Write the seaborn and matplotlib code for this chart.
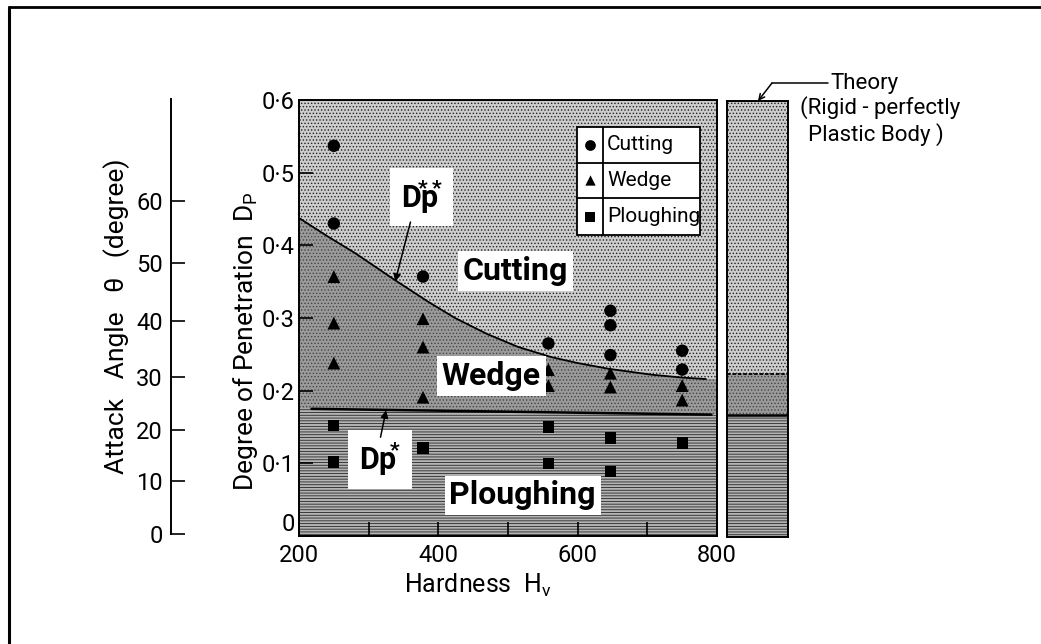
import numpy as np
import pandas as pd
import matplotlib
matplotlib.use("Agg")
import matplotlib.pyplot as plt
import seaborn as sns
from matplotlib.lines import Line2D
from matplotlib.patches import Rectangle

# ---- observed wear modes: Vickers hardness vs degree of penetration ----
cut_hv = [250, 250, 378, 558, 647, 647, 647, 750, 750]
cut_dp = [0.537, 0.430, 0.357, 0.265, 0.310, 0.290, 0.249, 0.255, 0.229]
wedge_hv = [250, 250, 250, 378, 378, 378, 558, 558, 647, 647, 750, 750]
wedge_dp = [0.357, 0.293, 0.238, 0.299, 0.260, 0.191, 0.229, 0.207,
            0.224, 0.205, 0.207, 0.187]
plough_hv = [250, 250, 378, 558, 558, 647, 647, 750]
plough_dp = [0.152, 0.102, 0.121, 0.150, 0.100, 0.135, 0.089, 0.128]

# ---- transition boundaries ----
# Dp** : wedge -> cutting
dpss_hv = [201, 240, 281, 338, 386, 424, 470, 515, 563, 600, 645, 706, 750, 784]
dpss_val = [0.437, 0.413, 0.389, 0.352, 0.322, 0.300, 0.278, 0.260, 0.246,
            0.238, 0.230, 0.222, 0.218, 0.216]
# Dp* : ploughing -> wedge
dps_hv = [218, 792]
dps_val = [0.175, 0.167]
# rigid-perfectly plastic theory
theory_dp_star = 0.168
theory_dp_starstar = 0.224

# ---- axis ticks ----
hv_ticks = [200, 300, 400, 500, 600, 700, 800]
hv_labels = ["200", "", "400", "", "600", "", "800"]
dp_ticks = [0.0, 0.1, 0.2, 0.3, 0.4, 0.5, 0.6]
dp_labels = ["0", "0·1", "0·2", "0·3", "0·4", "0·5", "0·6"]
angle_ticks = [0, 10, 20, 30, 40, 50, 60]
angle_dp = [0.0, 0.073, 0.144, 0.216, 0.294, 0.374, 0.460]

modes = ["Cutting", "Wedge", "Ploughing"]
mode_markers = {"Cutting": "o", "Wedge": "^", "Ploughing": "s"}
mode_sizes = {"Cutting": 80, "Wedge": 85, "Ploughing": 66}

# ---- styling ----
sns.set_theme(style="white")
plt.rcParams["font.family"] = ["Roboto", "DejaVu Sans"]
plt.rcParams.update({
    "mathtext.fontset": "custom",
    "mathtext.rm": "Roboto",
    "mathtext.bf": "Roboto:bold",
    "axes.edgecolor": "black",
    "text.color": "black",
    "xtick.color": "black",
    "ytick.color": "black",
    "axes.labelcolor": "black",
    "axes.axisbelow": False,
    "xtick.bottom": True,
    "ytick.left": True,
    "hatch.linewidth": 0.6,
})

CUT_FACE, CUT_HATCH = "#cdcdcd", "#222222"
WEDGE_FACE, WEDGE_HATCH = "#9a9a9a", "#444444"
PLOUGH_FACE, PLOUGH_HATCH = "#b4b4b4", "#262626"

W, H = 1041, 644
fig = plt.figure(figsize=(W / 100, H / 100), dpi=100)
fig.patch.set_facecolor("white")

ax = fig.add_axes([299 / W, 1 - 536 / H, 418 / W, 436 / H])
ax_th = fig.add_axes([727 / W, 1 - 537 / H, 61 / W, 436 / H])
ax_ang = fig.add_axes([171 / W, 1 - 534 / H, 0.001, 435 / H])
ax.set_axisbelow(False)

DP_MAX = 0.6
HV_MIN, HV_MAX = 200, 800

# ---- regions in the main panel ----
grid = np.linspace(HV_MIN, HV_MAX, 601)
upper = np.interp(grid, dpss_hv, dpss_val)
lower = np.interp(grid, dps_hv, dps_val)
ax.fill_between(grid, 0, lower, facecolor=PLOUGH_FACE, hatch="------",
                edgecolor=PLOUGH_HATCH, linewidth=0, zorder=1)
ax.fill_between(grid, lower, upper, facecolor=WEDGE_FACE, hatch=".....",
                edgecolor=WEDGE_HATCH, linewidth=0, zorder=1)
ax.fill_between(grid, upper, DP_MAX, facecolor=CUT_FACE, hatch=".....",
                edgecolor=CUT_HATCH, linewidth=0, zorder=1)

# boundary lines
sns.lineplot(x=dpss_hv, y=dpss_val, ax=ax, color="black", linewidth=1.3,
             sort=False, estimator=None, zorder=3)
sns.lineplot(x=dps_hv, y=dps_val, ax=ax, color="black", linewidth=1.8,
             sort=False, estimator=None, zorder=3)

# observations
obs = pd.DataFrame({
    "Hardness": cut_hv + wedge_hv + plough_hv,
    "Dp": cut_dp + wedge_dp + plough_dp,
    "Mode": ["Cutting"] * len(cut_hv) + ["Wedge"] * len(wedge_hv)
            + ["Ploughing"] * len(plough_hv),
})
sns.scatterplot(data=obs, x="Hardness", y="Dp", style="Mode", size="Mode",
                markers=mode_markers, sizes=mode_sizes, style_order=modes,
                size_order=modes, color="black", edgecolor="black",
                linewidth=0, legend=False, ax=ax, zorder=4)

# region names
box = dict(boxstyle="square,pad=0.15", fc="white", ec="none")
ax.text(511, 0.365, "Cutting", ha="center", va="center", fontsize=23,
        fontweight="bold", bbox=box, zorder=5)
ax.text(476, 0.220, "Wedge", ha="center", va="center", fontsize=23,
        fontweight="bold", bbox=box, zorder=5)
ax.text(521, 0.056, "Ploughing", ha="center", va="center", fontsize=23,
        fontweight="bold", bbox=box, zorder=5)

# Dp** and Dp* callouts
big_box = dict(boxstyle="square,pad=0.35", fc="white", ec="none")
ax.text(346, 0.452, "Dp$^{\\!\\!\\!\\!\\!\\!\\mathbf{**}}$", ha="left",
        va="baseline", fontsize=22, fontweight="bold", bbox=big_box, zorder=5)
ax.annotate("", xy=(338, 0.350), xytext=(360, 0.432),
            arrowprops=dict(arrowstyle="-|>", color="black", lw=1.1,
                            mutation_scale=11, shrinkA=0, shrinkB=0),
            zorder=6)

ax.text(286, 0.091, "Dp$^{\\!\\!\\mathbf{*}}$", ha="left", va="baseline",
        fontsize=22, fontweight="bold", bbox=big_box, zorder=5)
ax.annotate("", xy=(325, 0.173), xytext=(317, 0.136),
            arrowprops=dict(arrowstyle="-|>", color="black", lw=1.1,
                            mutation_scale=11, shrinkA=0, shrinkB=0),
            zorder=6)

# table-style key
lx0, lx1, ldiv = 0.665, 0.959, 0.727
lrows = [0.938, 0.856, 0.775, 0.690]
ax.add_patch(Rectangle((lx0, lrows[3]), lx1 - lx0, lrows[0] - lrows[3],
                       transform=ax.transAxes, fc="white", ec="black",
                       lw=1.3, zorder=7))
ax.add_line(Line2D([ldiv, ldiv], [lrows[3], lrows[0]], transform=ax.transAxes,
                   color="black", lw=1.3, zorder=8))
for yy in lrows[1:3]:
    ax.add_line(Line2D([lx0, lx1], [yy, yy], transform=ax.transAxes,
                       color="black", lw=1.3, zorder=8))
key_sizes = {"Cutting": 60, "Wedge": 55, "Ploughing": 50}
for i, m in enumerate(modes):
    yc = (lrows[i] + lrows[i + 1]) / 2
    ax.scatter([(lx0 + ldiv) / 2], [yc], marker=mode_markers[m], s=key_sizes[m],
               color="black", linewidths=0, transform=ax.transAxes, zorder=9,
               clip_on=False)
    ax.text(0.737, yc, m, transform=ax.transAxes, ha="left", va="center",
            fontsize=15, zorder=9)

# main axes frame and ticks
ax.set_xlim(HV_MIN, HV_MAX)
ax.set_ylim(0, DP_MAX)
ax.set_xticks(hv_ticks)
ax.set_xticklabels(hv_labels)
ax.set_yticks(dp_ticks)
ax.set_yticklabels(dp_labels)
ax.set_xlabel("")
ax.set_ylabel("")
ax.tick_params(direction="in", length=10, width=1.2, labelsize=17,
               labelcolor="black", left=True, bottom=True)
ax.tick_params(axis="x", pad=6)
ax.tick_params(axis="y", pad=3)
ax.get_yticklabels()[0].set_verticalalignment("bottom")
for s in ax.spines.values():
    s.set_linewidth(1.4)
    s.set_color("black")
    s.set_zorder(10)

# ---- theory column ----
ax_th.set_xlim(0, 1)
ax_th.set_ylim(0, DP_MAX)
ax_th.fill_between([0, 1], 0, theory_dp_star, facecolor=PLOUGH_FACE,
                   hatch="------", edgecolor=PLOUGH_HATCH, linewidth=0)
ax_th.fill_between([0, 1], theory_dp_star, theory_dp_starstar,
                   facecolor=WEDGE_FACE, hatch=".....", edgecolor=WEDGE_HATCH,
                   linewidth=0)
ax_th.fill_between([0, 1], theory_dp_starstar, DP_MAX, facecolor=CUT_FACE,
                   hatch=".....", edgecolor=CUT_HATCH, linewidth=0)
ax_th.axhline(theory_dp_star, color="black", lw=1.8)
ax_th.axhline(theory_dp_starstar, color="black", lw=1.3, ls=(0, (2, 1)))
ax_th.set_xticks([])
ax_th.set_yticks([])
for s in ax_th.spines.values():
    s.set_linewidth(1.4)
    s.set_color("black")

# ---- attack angle scale ----
ax_ang.set_ylim(0, DP_MAX)
ax_ang.set_xticks([])
ax_ang.set_yticks(angle_dp)
ax_ang.set_yticklabels([str(a) for a in angle_ticks])
for side in ["top", "right", "bottom"]:
    ax_ang.spines[side].set_visible(False)
ax_ang.spines["left"].set_linewidth(1.4)
ax_ang.spines["left"].set_color("black")
ax_ang.patch.set_visible(False)
ax_ang.tick_params(axis="y", direction="in", length=10, width=1.2, pad=6,
                   labelsize=17, labelcolor="black", left=True)

# ---- axis titles ----
fig.text(478 / W, 1 - 585 / H, "Hardness  H$_\\mathregular{v}$",
         ha="center", va="center", fontsize=18)
fig.text(245 / W, 1 - 341 / H, "Degree of Penetration  D$_\\mathregular{P}$",
         ha="center", va="center", rotation=90, fontsize=19)
fig.text(117 / W, 1 - 316 / H, "Attack   Angle   θ   (degree)",
         ha="center", va="center", rotation=90, fontsize=19)

# ---- theory note ----
fig.text(830 / W, 1 - 83 / H, "Theory", ha="left", va="center", fontsize=16)
fig.text(800 / W, 1 - 108 / H, "(Rigid - perfectly", ha="left", va="center",
         fontsize=16)
fig.text(808 / W, 1 - 135 / H, "Plastic Body )", ha="left", va="center",
         fontsize=16)
fig.add_artist(Line2D([772 / W, 828 / W], [1 - 83 / H, 1 - 83 / H],
                      transform=fig.transFigure, color="black", lw=1.1))
ax_th.annotate("", xy=(758, H - 101), xycoords="figure pixels",
               xytext=(772, H - 83), textcoords="figure pixels",
               arrowprops=dict(arrowstyle="->", color="black", lw=1.1,
                               mutation_scale=10, shrinkA=0, shrinkB=0),
               annotation_clip=False)

# ---- page frame ----
fig.add_artist(Line2D([9 / W, 9 / W], [0, 1 - 7 / H],
                      transform=fig.transFigure, color="black", lw=2.2))
fig.add_artist(Line2D([9 / W, 1], [1 - 7 / H, 1 - 7 / H],
                      transform=fig.transFigure, color="black", lw=2.0))

fig.savefig("out.png", dpi=100)
